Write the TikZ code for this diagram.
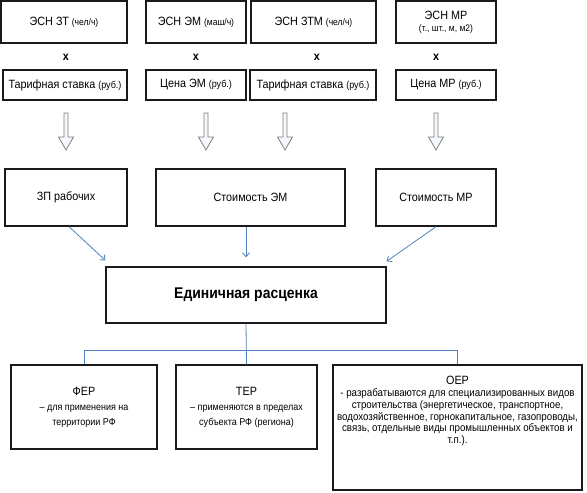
\documentclass[tikz,border=0pt]{standalone}
\usepackage{fontspec}
\setmainfont{Liberation Sans}[FakeStretch=0.9]
\usetikzlibrary{arrows.meta}
\usetikzlibrary{positioning}
\definecolor{prink}{HTML}{1A1A1A}
\definecolor{prblue}{HTML}{4F81BD}
\definecolor{prgray}{HTML}{7F7F7F}
\definecolor{prhollowfill}{HTML}{F4F7FB}
\tikzset{
  prbox/.style={
    draw=prink, line width=1.3pt, inner sep=2pt, align=center,
    font=\fontsize{12}{14}\selectfont},
  prkind/.style={prbox, font=\fontsize{10}{15}\selectfont},
  prmul/.style={font=\bfseries\fontsize{12}{14}\selectfont, inner sep=1pt},
  prhollow/.style={
    draw=prgray, fill=prhollowfill, line width=0.8pt, line join=miter},
  prlink/.style={
    draw=prblue, line width=0.8pt,
    -{Straight Barb[length=4pt, width=7pt]}},
  prtree/.style={draw=prblue, line width=0.8pt},
  prnote/.style={align=center, font=\fontsize{10.8}{11.7}\selectfont,
    inner sep=0pt},
}
\newcommand{\prunit}[1]{{\fontsize{9.5}{11}\selectfont #1}}
\newcommand{\prprice}[1]{{\fontsize{10}{12}\selectfont #1}}
\newcommand{\prtitle}[1]{{\fontsize{12}{14}\selectfont #1}}

\begin{document}
\begin{tikzpicture}[x=1pt, y=-1pt]
\useasboundingbox (0,0) rectangle (587,493);

% Resource norms (ESN) per column.
\node[prbox, minimum width=126pt, minimum height=42pt] (esnzt)
  at (64,22) {ЭСН ЗТ \prunit{(чел/ч)}};
\node[prbox, minimum width=100pt, minimum height=42pt] (esnem)
  at (196,22) {ЭСН ЭМ \prunit{(маш/ч)}};
\node[prbox, minimum width=125pt, minimum height=42pt] (esnztm)
  at (313.5,22) {ЭСН ЗТМ \prunit{(чел/ч)}};
\node[prbox, minimum width=100pt, minimum height=42pt] (esnmr)
  at (446,22) {ЭСН МР\\[-2pt]\prunit{(т., шт., м, м2)}};

% Multiplication marks between norm and price.
\foreach \cx [count=\i] in {66,196,317,436} {
  \node[prmul] (mul\i) at (\cx,57) {х};
}

% Unit prices.
\node[prbox, minimum width=124pt, minimum height=30pt] (tarzt)
  at (65,85) {Тарифная ставка \prprice{(руб.)}};
\node[prbox, minimum width=100pt, minimum height=30pt] (cenaem)
  at (196,85) {Цена ЭМ \prprice{(руб.)}};
\node[prbox, minimum width=126pt, minimum height=30pt] (tarztm)
  at (313,85) {Тарифная ставка \prprice{(руб.)}};
\node[prbox, minimum width=100pt, minimum height=30pt] (cenamr)
  at (446,85) {Цена МР \prprice{(руб.)}};

% Hollow arrows down to the cost boxes (shaft 113..137, tip at 150).
\foreach \cx [count=\i] in {66,206,285,436} {
  \coordinate (down\i) at (\cx,113);
  \draw[prhollow] ([xshift=-2pt]down\i) -- ++(0,24) -- ++(-5.5,0)
    -- ++(7.5,13) -- ++(7.5,-13) -- ++(-5.5,0) -- ++(0,-24) -- cycle;
}

% Cost components.
\node[prbox, minimum width=122pt, minimum height=57pt] (zp)
  at (66,197.5) {ЗП рабочих};
\node[prbox, minimum width=189pt, minimum height=57pt] (stem)
  at (250.5,197.5) {Стоимость ЭМ};
\node[prbox, minimum width=120pt, minimum height=57pt] (stmr)
  at (436,197.5) {Стоимость МР};

% Unit rate.
\node[prbox, minimum width=280pt, minimum height=56pt,
      font=\bfseries\fontsize{15.5}{18}\selectfont] (er)
  at (246,295) {Единичная расценка};

\draw[prlink] ([xshift=3pt]zp.south) -- ([yshift=6pt]er.north west);
\draw[prlink] (stem.south -| er.north) -- ([yshift=9pt]er.north);
\draw[prlink] (stmr.south) -- ([yshift=5pt]er.north east);

% Kinds of unit rates.
\node[prkind, minimum width=146pt, minimum height=84pt] (fer)
  at (84,407) {\prtitle{ФЕР}\\– для применения на\\территории РФ};
\node[prkind, minimum width=141pt, minimum height=84pt] (ter)
  at (246.5,407) {\prtitle{ТЕР}\\– применяются в пределах\\субъекта РФ (региона)};
\node[prbox, minimum width=249pt, minimum height=125pt] (oer)
  at (457.5,427.5) {};
\node[prnote, anchor=north] (oertext) at ([yshift=-12pt]oer.north)
  {\prtitle{ОЕР}\\
   - разрабатываются для специализированных видов\\
   строительства (энергетическое, транспортное,\\
   водохозяйственное, горнокапитальное, газопроводы,\\
   связь, отдельные виды промышленных объектов и\\
   т.п.).};

\coordinate (split) at (er.south |- 0,350);
\draw[prtree] (er.south) -- (ter.north);
\draw[prtree] (fer.north) -- (fer.north |- split)
  -- (oer.north |- split) -- (oer.north);

\end{tikzpicture}
\end{document}
